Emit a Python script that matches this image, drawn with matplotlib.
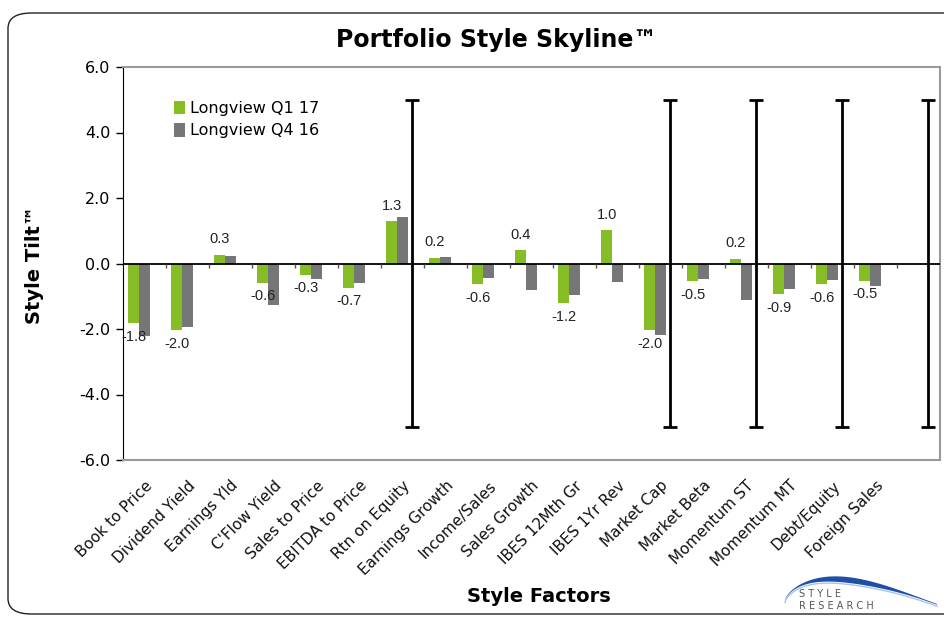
import matplotlib
matplotlib.use("Agg")
import matplotlib.pyplot as plt
from matplotlib.patches import FancyBboxPatch, Polygon
import numpy as np

factors = ['Book to Price', 'Dividend Yield', 'Earnings Yld', "C'Flow Yield",
           'Sales to Price', 'EBITDA to Price', 'Rtn on Equity', 'Earnings Growth',
           'Income/Sales', 'Sales Growth', 'IBES 12Mth Gr', 'IBES 1Yr Rev',
           'Market Cap', 'Market Beta', 'Momentum ST', 'Momentum MT',
           'Debt/Equity', 'Foreign Sales', '']
q1_17 = [-1.83, -2.04, 0.27, -0.59, -0.34, -0.74, 1.30, 0.18, -0.63, 0.42,
         -1.22, 1.03, -2.04, -0.54, 0.15, -0.93, -0.64, -0.52, np.nan]
q4_16 = [-2.22, -1.95, 0.23, -1.27, -0.48, -0.60, 1.42, 0.21, -0.43, -0.80,
         -0.96, -0.58, -2.17, -0.46, -1.10, -0.78, -0.49, -0.69, np.nan]
q1_labels = ['-1.8', '-2.0', '0.3', '-0.6', '-0.3', '-0.7', '1.3', '0.2', '-0.6',
             '0.4', '-1.2', '1.0', '-2.0', '-0.5', '0.2', '-0.9', '-0.6', '-0.5', '']
# range markers (+/- 5) shown on some factors
range_idx = [6, 12, 14, 16, 18]
range_half = [5, 5, 5, 5, 5]

green = '#86bc25'
grey = '#747678'

fig = plt.figure(figsize=(9.44, 6.19), dpi=100)
fig.patch.set_facecolor('white')

border = FancyBboxPatch((8 / 944, 5 / 619), 980 / 944, 601 / 619,
                        boxstyle='round,pad=0,rounding_size=0.025',
                        transform=fig.transFigure, facecolor='none',
                        edgecolor='#222222', linewidth=1.0, clip_on=False)
fig.patches.append(border)

ax = fig.add_axes([123 / 944, 1 - 460 / 619, 817 / 944, 393 / 619])

x = np.arange(len(factors))
w = 0.25
ax.bar(x - w, q1_17, w, color=green, label='Longview Q1 17')
ax.bar(x, q4_16, w, color=grey, label='Longview Q4 16')
ax.errorbar(x[range_idx] + w * 0.9, np.zeros(len(range_idx)), yerr=range_half,
            fmt='none', ecolor='black', elinewidth=2, capsize=5, capthick=2)

for xi, v, s in zip(x, q1_17, q1_labels):
    if not s:
        continue
    if v >= 0:
        ax.text(xi - w, v + 0.25, s, ha='center', va='bottom', fontsize=10.5,
                color='#222222', family='Liberation Sans')
    else:
        ax.text(xi - w, v - 0.2, s, ha='center', va='top', fontsize=10.5,
                color='#222222', family='Liberation Sans')

ax.axhline(0, color='black', lw=1.3, zorder=3)
ax.vlines(np.arange(len(factors) - 1) + 0.5, -0.13, 0, color='#555555', lw=1, zorder=3)

ax.set_xlim(-0.5, len(factors) - 0.5)
ax.set_ylim(-6, 6)
ax.set_yticks(np.arange(-6, 7, 2))
ax.set_yticklabels(['%.1f' % t for t in np.arange(-6, 7, 2)], fontsize=11.5)
ax.tick_params(axis='y', length=5, width=1, direction='out', pad=4)
ax.set_xticks(x[:-1])
ax.set_xticklabels(factors[:-1], rotation=45, ha='right', rotation_mode='anchor',
                   fontsize=11, color='#111111')
ax.tick_params(axis='x', length=0, pad=13)

for s in ['top', 'right', 'bottom']:
    ax.spines[s].set_color('#9a9a9a')
    ax.spines[s].set_linewidth(1.5)
ax.spines['left'].set_color('black')

ax.legend(loc='upper left', bbox_to_anchor=(0.045, 0.95), frameon=False,
          fontsize=11.5, handlelength=0.7, handleheight=0.9,
          handletextpad=0.3, labelspacing=0.45)

fig.text(497 / 944, 1 - 40 / 619, 'Portfolio Style Skyline\u2122', ha='center',
         va='center', fontsize=17, fontweight='bold')
fig.text(35 / 944, 1 - 265 / 619, 'Style Tilt\u2122', ha='center', va='center',
         rotation=90, fontsize=14, fontweight='bold')
fig.text(539 / 944, 1 - 597 / 619, 'Style Factors', ha='center', va='center',
         fontsize=14, fontweight='bold')

# logo swoosh
t = np.linspace(0, 1, 150)
lx = 785 + 152 * t
top = 600 - 25 * np.sin(np.pi * t ** 0.66) + 4 * t
thick = 0.8 + 5 * np.sin(np.pi * t ** 0.8) ** 2
pts = np.vstack([np.column_stack([lx, top]), np.column_stack([lx[::-1], (top + thick)[::-1]])])
fig.patches.append(Polygon(np.column_stack([pts[:, 0] / 944, 1 - pts[:, 1] / 619]),
                           closed=True, facecolor='#1f4fa8', edgecolor='none',
                           transform=fig.transFigure))
fig.lines.append(plt.Line2D(lx / 944, 1 - (top + thick + 1.5) / 619, color='#a9c4ea', lw=1,
                            transform=fig.transFigure))
fig.text(820 / 944, 1 - 594 / 619, 'S T Y L E', ha='center', va='center',
         fontsize=7, color='#555555')
fig.text(836 / 944, 1 - 606 / 619, 'R E S E A R C H', ha='center', va='center',
         fontsize=7, color='#555555')

fig.savefig('out.png', dpi=100)
